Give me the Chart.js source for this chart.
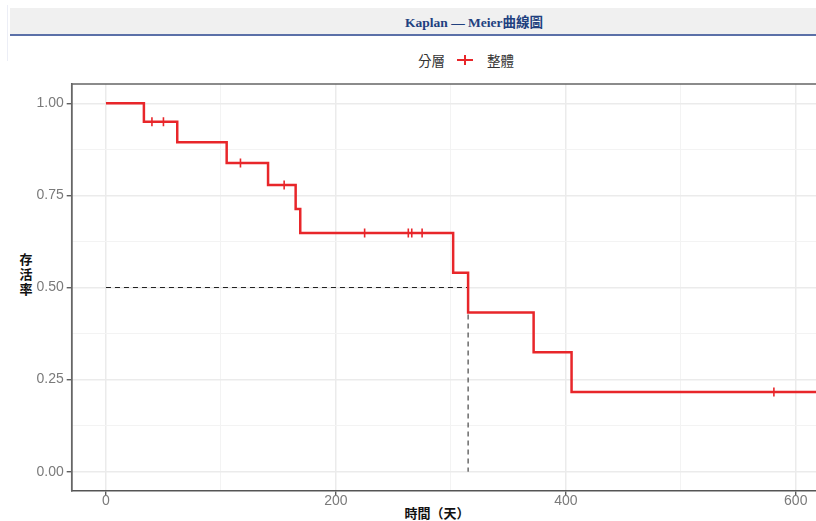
<!DOCTYPE html>
<html lang="zh-Hant">
<head>
<meta charset="utf-8">
<title>Kaplan — Meier曲線圖</title>
<script src="https://cdn.jsdelivr.net/npm/chart.js@4/dist/chart.umd.min.js"></script>
<style>
  html, body { margin: 0; padding: 0; background: #ffffff; }
  body { width: 816px; height: 521px; overflow: hidden; position: relative; }
  .edge { position: absolute; left: 7px; top: 5px; width: 1px; height: 56px; background: #eceef6; }
  .title-bar {
    position: absolute; left: 10px; top: 8px; width: 928px; height: 26px;
    background: #f0f0f0; border-bottom: 2px solid #5b70a8; box-sizing: content-box;
    font: bold 13.5px "Liberation Serif", "Noto Sans CJK TC", serif; color: #21407f;
    text-align: center; line-height: 30px;
  }
  .legend { position: absolute; top: 50px; height: 20px; font: 13.5px "Noto Sans CJK TC", "Liberation Sans", sans-serif; color: #333; line-height: 20px; }
  .key { position: absolute; left: 457px; top: 50px; width: 16px; height: 20px; }
  .key .h { position: absolute; left: 0; top: 9px; width: 16px; height: 2px; background: #e8262a; }
  .key .v { position: absolute; left: 7px; top: 5px; width: 2px; height: 10px; background: #e8262a; }
  .ytitle { position: absolute; left: 19px; top: 252px; width: 14px; font: bold 13px "Liberation Serif", "Noto Sans CJK TC", serif; color: #111; line-height: 15px; text-align: center; }
  .xtitle { position: absolute; left: 337px; top: 505px; width: 200px; text-align: center; font: bold 13px "Liberation Serif", "Noto Sans CJK TC", serif; color: #111; line-height: 18px; }
  canvas { position: absolute; left: 0; top: 0; }
</style>
</head>
<body>
<div class="edge"></div>
<div class="title-bar">Kaplan — Meier曲線圖</div>
<div class="legend" style="left:418px">分層</div>
<div class="key"><div class="h"></div><div class="v"></div></div>
<div class="legend" style="left:487px">整體</div>
<div class="ytitle">存<br>活<br>率</div>
<div class="xtitle">時間（天）</div>
<canvas id="km" width="940" height="521"></canvas>
<script>
// Kaplan–Meier estimate for the whole cohort (days)
const eventTimes = [0, 33, 62, 105, 141, 165, 169, 302, 315, 372, 405];
const survival   = [1.000, 0.950, 0.894, 0.838, 0.778, 0.713, 0.648, 0.540, 0.432, 0.324, 0.216];
const censorTimes = [40, 50, 117, 155, 225, 263, 266, 275, 581];
const lastFollowUp = 625;

// axis ticks (labelled ones every second step)
const xTicks = [0, 100, 200, 300, 400, 500, 600];
const yTicks = [0, 0.125, 0.25, 0.375, 0.5, 0.625, 0.75, 0.875, 1];

const RED = '#e8262a';

// survival value in force at time t
function survAt(t) {
  let s = survival[0];
  for (let i = 0; i < eventTimes.length; i++) if (eventTimes[i] <= t) s = survival[i];
  return s;
}
const curve = eventTimes.map((t, i) => ({ x: t, y: survival[i] }));
curve.push({ x: lastFollowUp, y: survival[survival.length - 1] });
const censors = censorTimes.map(t => ({ x: t, y: survAt(t) }));

// median survival: first time the curve reaches 0.5 or below
const medianIdx = survival.findIndex(s => s <= 0.5);
const medianTime = eventTimes[medianIdx];

const panelBox = {
  id: 'panelBox',
  afterDraw(chart) {
    const { ctx, chartArea: a } = chart;
    ctx.save();
    ctx.strokeStyle = '#666';
    ctx.lineWidth = 1.5;
    ctx.beginPath();
    ctx.moveTo(a.left, a.bottom);
    ctx.lineTo(a.left, a.top);
    ctx.lineTo(a.right, a.top);
    ctx.stroke();
    ctx.restore();
  }
};

const isMajorY = v => Math.abs(v * 4 - Math.round(v * 4)) < 1e-9;

new Chart(document.getElementById('km'), {
  type: 'line',
  data: {
    datasets: [
      { data: curve, stepped: 'before', borderColor: RED, borderWidth: 2.5, pointRadius: 0, fill: false },
      { data: censors, showLine: false, pointStyle: 'cross', pointRadius: 4.5, borderColor: RED, borderWidth: 1.6, pointBorderColor: RED },
      { data: [{ x: 0, y: 0.5 }, { x: medianTime, y: 0.5 }], borderColor: '#222', borderWidth: 1, borderDash: [5, 4], pointRadius: 0 },
      { data: [{ x: medianTime, y: 0.5 }, { x: medianTime, y: 0 }], borderColor: '#222', borderWidth: 1, borderDash: [5, 4], pointRadius: 0 }
    ]
  },
  options: {
    responsive: false,
    animation: false,
    devicePixelRatio: 1,
    layout: { padding: { top: 84, right: 114.6, left: 0, bottom: 0 } },
    plugins: { legend: { display: false }, tooltip: { enabled: false }, title: { display: false } },
    scales: {
      x: {
        type: 'linear', min: -29.8, max: 625.8,
        afterBuildTicks: s => { s.ticks = xTicks.map(v => ({ value: v })); },
        afterFit: s => { s.height = 30; },
        border: { display: true, color: '#555', width: 1.5 },
        grid: {
          color: c => (c.tick && c.tick.value % 200 === 0) ? '#ebebeb' : '#f3f3f3',
          lineWidth: c => (c.tick && c.tick.value % 200 === 0) ? 1.5 : 1,
          tickColor: c => (c.tick && c.tick.value % 200 === 0) ? '#444' : 'rgba(0,0,0,0)',
          tickLength: 4, tickWidth: 1.2
        },
        ticks: {
          autoSkip: false, maxRotation: 0, padding: -2,
          color: '#7a7a7a', font: { family: 'Liberation Sans', size: 14 },
          callback: v => (v % 200 === 0 ? String(v) : '')
        }
      },
      y: {
        type: 'linear', min: -0.0524, max: 1.0524,
        afterBuildTicks: s => { s.ticks = yTicks.map(v => ({ value: v })); },
        afterFit: s => { s.width = 71.7; },
        border: { display: true, color: '#555', width: 1.5 },
        grid: {
          color: c => (c.tick && isMajorY(c.tick.value)) ? '#ebebeb' : '#f3f3f3',
          lineWidth: c => (c.tick && isMajorY(c.tick.value)) ? 1.5 : 1,
          tickColor: c => (c.tick && isMajorY(c.tick.value)) ? '#444' : 'rgba(0,0,0,0)',
          tickLength: 5, tickWidth: 1.2
        },
        ticks: {
          autoSkip: false, padding: 3,
          color: '#7a7a7a', font: { family: 'Liberation Sans', size: 14 },
          callback: v => (isMajorY(v) ? v.toFixed(2) : '')
        }
      }
    }
  },
  plugins: [panelBox]
});
</script>
</body>
</html>
